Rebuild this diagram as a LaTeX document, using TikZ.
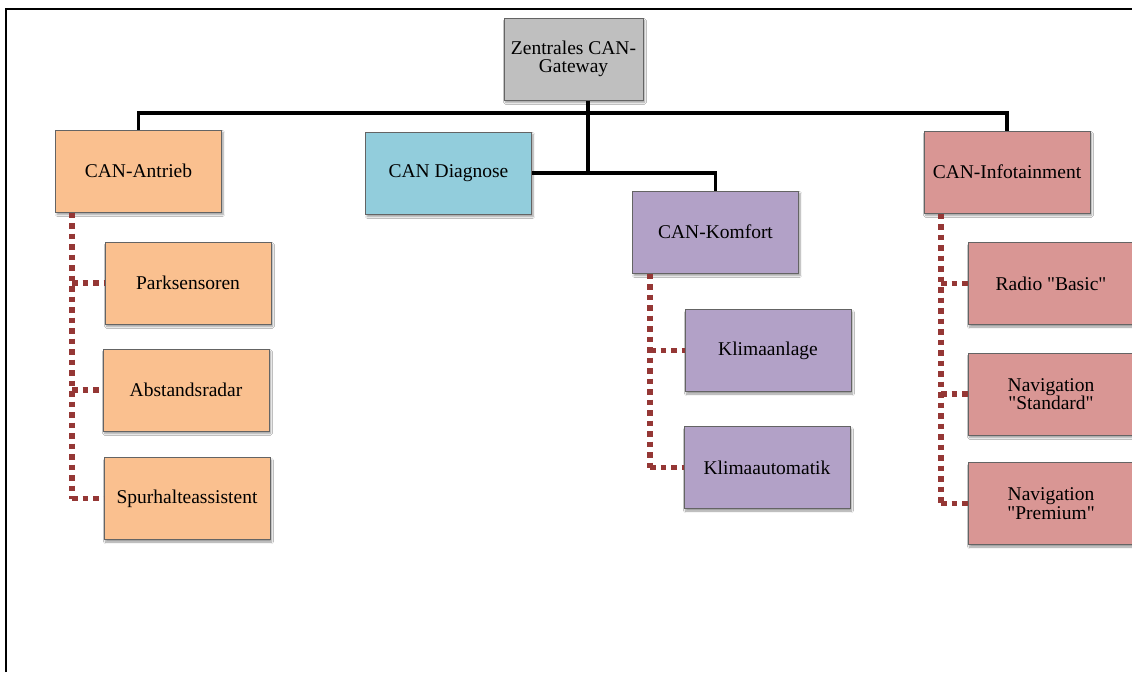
\documentclass[tikz,border=0pt]{standalone}
\usepackage{fontspec}
\setmainfont{Liberation Serif}[Ligatures=TeXOff]
\usetikzlibrary{shadows.blur}
\definecolor{gwfill}{RGB}{191,191,191}
\definecolor{orfill}{RGB}{250,192,143}
\definecolor{blfill}{RGB}{146,205,220}
\definecolor{pufill}{RGB}{178,161,199}
\definecolor{rdfill}{RGB}{217,150,148}
\definecolor{boxline}{RGB}{100,100,100}
\definecolor{dotline}{RGB}{149,55,53}
\tikzset{
  ecu/.style={draw=boxline, line width=1pt, minimum width=166pt, minimum height=82pt,
    inner sep=2pt, align=center, font=\fontsize{19.5}{18.5}\selectfont,
    blur shadow={shadow xshift=1.5pt, shadow yshift=-2.5pt, shadow blur steps=6, shadow opacity=40}},
  bus/.style={line width=3.2pt, black},
  sub/.style={line width=5.5pt, dotline, dash pattern=on 5.5pt off 5pt},
}
\begin{document}
\begin{tikzpicture}[x=1pt, y=-1pt]
\useasboundingbox (0,0) rectangle (1132,672);
\clip (0,0) rectangle (1132,672);
\fill[white] (0,0) rectangle (1132,672);
% page frame
\draw[line width=2pt] (6,672) -- (6,9) -- (1132,9);

% gateway and bus nodes
\node[ecu, fill=gwfill, minimum width=139pt] (gw) at (573.5,59) {Zentrales CAN-\\Gateway};
\node[ecu, fill=orfill] (ant) at (138.5,171) {CAN-Antrieb};
\node[ecu, fill=blfill] (diag) at (448.5,173) {CAN Diagnose};
\node[ecu, fill=pufill] (kom) at (715.5,232) {CAN-Komfort};
\node[ecu, fill=rdfill] (info) at (1007,172) {CAN-Infotainment};

% devices
\node[ecu, fill=orfill] (park) at (188,283) {Parksensoren};
\node[ecu, fill=orfill] (radar) at (186,390) {Abstandsradar};
\node[ecu, fill=orfill] (spur) at (187,498.5) {Spurhalteassistent};
\node[ecu, fill=pufill] (klima) at (768,350.5) {Klimaanlage};
\node[ecu, fill=pufill] (kauto) at (767,467.5) {Klimaautomatik};
\node[ecu, fill=rdfill] (radio) at (1051,283.5) {Radio "Basic"};
\node[ecu, fill=rdfill] (navs) at (1051,394) {Navigation\\"Standard"};
\node[ecu, fill=rdfill] (navp) at (1051,503.5) {Navigation\\"Premium"};

% main bus
\coordinate (hub) at (588,113);
\draw[bus] (ant.north) |- (hub) -| (info.north);
\draw[bus] (gw.south -| hub) -- (diag.east -| hub);
\draw[bus] (diag.east) -| (kom.north);

% sub-bus links
\coordinate (ta) at ([xshift=-66.5pt]ant.south);
\draw[sub] (ta) -- (ta |- spur.west);
\draw[sub] (ta |- park.west) -- (park.west);
\draw[sub] (ta |- radar.west) -- (radar.west);
\draw[sub] (ta |- spur.west) -- (spur.west);

\coordinate (tk) at ([xshift=-65.5pt]kom.south);
\draw[sub] (tk) -- (tk |- kauto.west);
\draw[sub] (tk |- klima.west) -- (klima.west);
\draw[sub] (tk |- kauto.west) -- (kauto.west);

\coordinate (ti) at ([xshift=-66pt]info.south);
\draw[sub] (ti) -- (ti |- navp.west);
\draw[sub] (ti |- radio.west) -- (radio.west);
\draw[sub] (ti |- navs.west) -- (navs.west);
\draw[sub] (ti |- navp.west) -- (navp.west);
\end{tikzpicture}
\end{document}
